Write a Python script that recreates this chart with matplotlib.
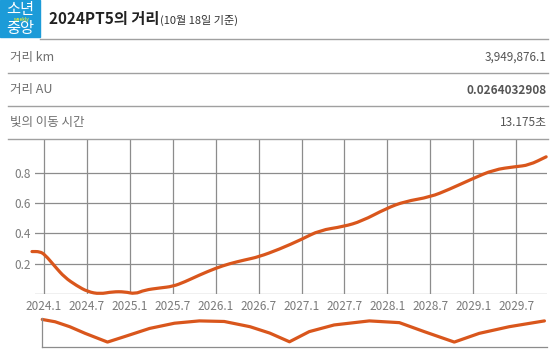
import matplotlib
matplotlib.use('Agg')
import matplotlib.pyplot as plt
from matplotlib.patches import Rectangle, PathPatch
from matplotlib.lines import Line2D
from matplotlib.path import Path

plt.rcParams['font.family'] = ['Noto Sans CJK KR', 'DejaVu Sans']

# distance curve (years since 2024.1, value)
t_main = [-0.14, -0.05, 0.01, 0.13, 0.24, 0.38, 0.51, 0.65, 0.80, 0.94, 1.06,
          1.17, 1.35, 1.50, 1.64, 1.81, 2.00, 2.16, 2.34, 2.50, 2.74, 3.00,
          3.21, 3.49, 3.70, 3.99, 4.20, 4.50, 4.72, 4.99, 5.24, 5.49, 5.65, 5.85]
v_main = [0.28, 0.28, 0.26, 0.18, 0.11, 0.055, 0.015, 0.0, 0.015, 0.015, 0.0,
          0.026, 0.04, 0.05, 0.08, 0.125, 0.17, 0.20, 0.225, 0.245, 0.295, 0.36,
          0.42, 0.445, 0.48, 0.565, 0.61, 0.64, 0.69, 0.76, 0.82, 0.84, 0.85, 0.905]

# small panel curve
t_mini = [-0.02, 0.13, 0.30, 0.48, 0.74, 0.94, 1.23, 1.52, 1.81, 2.10, 2.40,
          2.63, 2.86, 3.09, 3.38, 3.79, 4.14, 4.43, 4.78, 5.07, 5.42, 5.83]
v_mini = [0.95, 0.87, 0.70, 0.47, 0.17, 0.36, 0.64, 0.82, 0.90, 0.88, 0.70,
          0.48, 0.18, 0.53, 0.76, 0.90, 0.84, 0.53, 0.17, 0.47, 0.70, 0.90]

tick_pos = [0, 0.5, 1, 1.5, 2, 2.5, 3, 3.5, 4, 4.5, 5, 5.5]
tick_lbl = ['2024.1', '2024.7', '2025.1', '2025.7', '2026.1', '2026.7',
            '2027.1', '2027.7', '2028.1', '2028.7', '2029.1', '2029.7']
y_ticks = [0.2, 0.4, 0.6, 0.8]
y_lbl = ['0.2', '0.4', '0.6', '0.8']

title = '2024PT5의 거리'
subtitle = '(10월 18일 기준)'
rows = ['거리 km', '거리 AU', '빛의 이동 시간']
vals = ['3,949,876.1', '0.0264032908', '13.175초']

W, H = 559, 359
orange = '#d9561c'
grid = '#8c8c8c'


def fx(x):
    return x / W


def fy(y):
    return 1 - y / H


def smooth_path(xs, ys):
    # quadratic curve through the midpoints, drawn as one path
    pts = list(zip(xs, ys))
    verts = [pts[0]]
    codes = [Path.MOVETO]
    mid = lambda a, b: ((a[0] + b[0]) / 2, (a[1] + b[1]) / 2)
    verts.append(mid(pts[0], pts[1]))
    codes.append(Path.LINETO)
    for i in range(1, len(pts) - 1):
        verts += [pts[i], mid(pts[i], pts[i + 1])]
        codes += [Path.CURVE3, Path.CURVE3]
    verts.append(pts[-1])
    codes.append(Path.LINETO)
    return Path(verts, codes)


fig = plt.figure(figsize=(W / 100, H / 100), dpi=100)

# header
fig.patches.append(Rectangle((0, fy(37)), fx(40), 37 / H, transform=fig.transFigure,
                             color='#1c9bd8', zorder=1))
fig.text(fx(20), fy(9.5), '소년', color='white', fontsize=11, ha='center', va='center')
fig.text(fx(20), fy(28.5), '중앙', color='white', fontsize=11, ha='center', va='center')
fig.text(fx(22), fy(19), 'weekly', color='#c9e04a', fontsize=3.2, ha='center',
         va='center', fontweight='bold')
tt = fig.text(fx(49), fy(19), title, fontsize=11, fontweight='bold', color='#222222',
              va='center', ha='left')
r = fig.canvas.get_renderer()
bb = tt.get_window_extent(renderer=r)
fig.text(bb.x1 / W + fx(1), fy(20), subtitle, fontsize=8, color='#333333',
         va='center', ha='left')

for y0, x0 in [(39, 40), (73, 8), (106, 8), (139, 8)]:
    fig.lines.append(Line2D([fx(x0), fx(548)], [fy(y0), fy(y0)], transform=fig.transFigure,
                            color='#a0a0a0', lw=1))

for i, (rw, v) in enumerate(zip(rows, vals)):
    yy = 57 + i * 33
    fig.text(fx(10), fy(yy), rw, fontsize=9, color='#6e6e6e', va='center', ha='left')
    fig.text(fx(547), fy(yy), v, fontsize=8.5, color='#555555', va='center', ha='right',
             fontweight='bold' if i == 1 else 'normal')

# main chart
ax = fig.add_axes([fx(35), fy(294), fx(547) - fx(35), (294 - 140) / H])
ax.set_xlim(-0.105, 5.86)
ax.set_ylim(0, 1.016)
for s in ax.spines.values():
    s.set_visible(False)
for t in tick_pos:
    ax.axvline(t, color=grid, lw=0.9, zorder=1)
for y in y_ticks:
    ax.axhline(y, color=grid, lw=0.9, zorder=1)
ax.axhline(0, color=grid, lw=0.9, zorder=1)
ax.add_patch(PathPatch(smooth_path(t_main, v_main), fill=False, edgecolor=orange,
                       lw=2.3, capstyle='round', joinstyle='round', clip_on=False, zorder=3))
ax.set_xticks(tick_pos)
ax.set_xticklabels(tick_lbl)
ax.set_yticks(y_ticks)
ax.set_yticklabels(y_lbl)
ax.tick_params(length=0, labelsize=8.5, labelcolor='#7a7a7a')
ax.tick_params(axis='x', pad=4)
ax.tick_params(axis='y', pad=3)
ax.patch.set_alpha(0)

# small panel
ax2 = fig.add_axes([fx(42), fy(347), fx(547) - fx(42), (347 - 318) / H])
ax2.set_xlim(-0.023, 5.86)
ax2.set_ylim(0, 1)
for k in ['top', 'right']:
    ax2.spines[k].set_visible(False)
for k in ['left', 'bottom']:
    ax2.spines[k].set_color(grid)
    ax2.spines[k].set_linewidth(0.9)
ax2.plot(t_mini, v_mini, color=orange, lw=2.3, solid_capstyle='round',
         solid_joinstyle='round', clip_on=False)
ax2.set_xticks([])
ax2.set_yticks([])
ax2.patch.set_alpha(0)

fig.savefig('out.png', dpi=100)
